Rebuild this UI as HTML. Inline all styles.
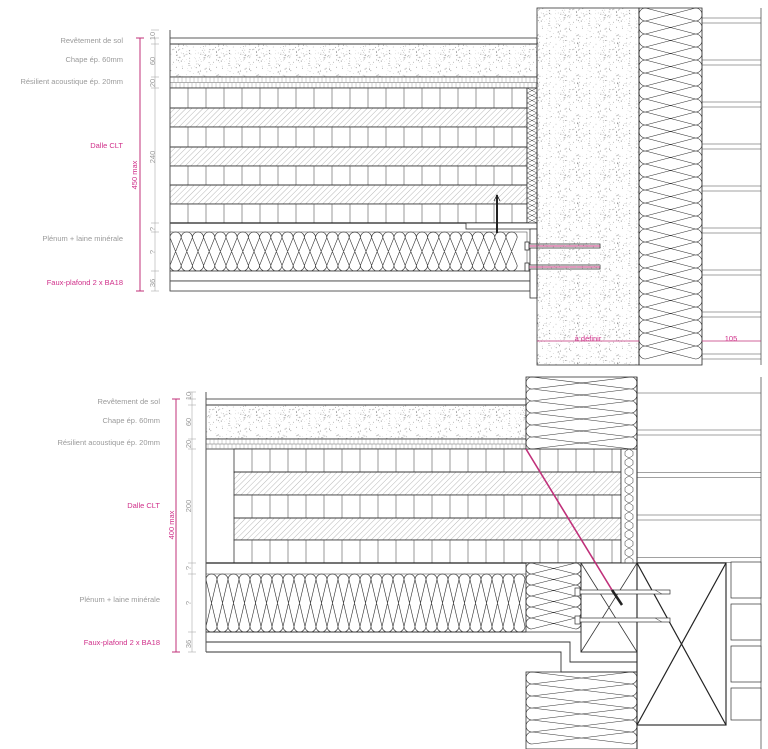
<!DOCTYPE html>
<html><head><meta charset="utf-8"><style>
html,body{margin:0;padding:0;background:#fff;width:768px;height:749px;overflow:hidden}
svg{display:block}
text{font-family:"Liberation Sans",sans-serif;font-size:7.5px}
.g{fill:#9a9a9a}.p{fill:#d0308a}
</style></head><body>
<svg id="s" width="768" height="749" viewBox="0 0 768 749" xmlns="http://www.w3.org/2000/svg">
<defs>
<pattern id="hatch" width="4" height="4" patternUnits="userSpaceOnUse" patternTransform="rotate(45)"><line x1="0" y1="0" x2="0" y2="4" stroke="#999" stroke-width="0.7"/></pattern>
<pattern id="speck" width="40" height="40" patternUnits="userSpaceOnUse"><g id="sp"></g></pattern>
</defs>
<g id="d" fill="none" stroke="#333" stroke-width="0.8"></g>
<text x="123" y="43" text-anchor="end" class="g">Revêtement de sol</text>
<text x="123" y="62" text-anchor="end" class="g">Chape ép. 60mm</text>
<text x="123" y="84" text-anchor="end" class="g">Résilient acoustique ép. 20mm</text>
<text x="123" y="148" text-anchor="end" class="p">Dalle CLT</text>
<text x="123" y="241" text-anchor="end" class="g">Plénum + laine minérale</text>
<text x="123" y="285" text-anchor="end" class="p">Faux-plafond 2 x BA18</text>
<text transform="translate(137,175) rotate(-90)" text-anchor="middle" class="p">450 max</text>
<text transform="translate(155,36) rotate(-90)" text-anchor="middle" class="g" font-size="6">10</text>
<text transform="translate(155,61) rotate(-90)" text-anchor="middle" class="g">60</text>
<text transform="translate(155,83) rotate(-90)" text-anchor="middle" class="g">20</text>
<text transform="translate(155,157) rotate(-90)" text-anchor="middle" class="g">240</text>
<text transform="translate(155,229) rotate(-90)" text-anchor="middle" class="g">?</text>
<text transform="translate(155,252) rotate(-90)" text-anchor="middle" class="g">?</text>
<text transform="translate(155,283) rotate(-90)" text-anchor="middle" class="g">36</text>
<text x="588" y="341" text-anchor="middle" class="p">à définir</text>
<text x="731" y="341" text-anchor="middle" class="p">105</text>
<text x="160" y="404" text-anchor="end" class="g">Revêtement de sol</text>
<text x="160" y="423" text-anchor="end" class="g">Chape ép. 60mm</text>
<text x="160" y="445" text-anchor="end" class="g">Résilient acoustique ép. 20mm</text>
<text x="160" y="508" text-anchor="end" class="p">Dalle CLT</text>
<text x="160" y="602" text-anchor="end" class="g">Plénum + laine minérale</text>
<text x="160" y="645" text-anchor="end" class="p">Faux-plafond 2 x BA18</text>
<text transform="translate(174,525) rotate(-90)" text-anchor="middle" class="p">400 max</text>
<text transform="translate(191,396) rotate(-90)" text-anchor="middle" class="g" font-size="6">10</text>
<text transform="translate(191,422) rotate(-90)" text-anchor="middle" class="g">60</text>
<text transform="translate(191,444) rotate(-90)" text-anchor="middle" class="g">20</text>
<text transform="translate(191,506) rotate(-90)" text-anchor="middle" class="g">200</text>
<text transform="translate(191,568) rotate(-90)" text-anchor="middle" class="g">?</text>
<text transform="translate(191,603) rotate(-90)" text-anchor="middle" class="g">?</text>
<text transform="translate(191,644) rotate(-90)" text-anchor="middle" class="g">36</text>
</svg>
<script>
var NS="http://www.w3.org/2000/svg",D=document.getElementById("d");
function el(t,a,p){var e=document.createElementNS(NS,t);for(var k in a)e.setAttribute(k,a[k]);(p||D).appendChild(e);return e;}
var sp=document.getElementById("sp"),seed=7;function rnd(){seed=(seed*9301+49297)%233280;return seed/233280;}
for(var i=0;i<160;i++)el("circle",{cx:rnd()*40,cy:rnd()*40,r:0.25+rnd()*0.35,fill:"#999"},sp);
function R(x,y,w,h,f,sw){return el("rect",{x:x,y:y,width:w,height:h,fill:f||"none","stroke-width":sw||0.8});}
function L(x1,y1,x2,y2,c,w){return el("line",{x1:x1,y1:y1,x2:x2,y2:y2,stroke:c||"#333","stroke-width":w||0.8});}
function boards(x,y,w,h,p){R(x,y,w,h,"#fff");for(var a=x+p;a<x+w;a+=p)L(a,y,a,y+h,"#555",0.6);}
function hatch(x,y,w,h){R(x,y,w,h,"url(#hatch)");}
function resil(x,y,w,h){R(x,y,w,h,"#fff");L(x,y+h/2,x+w,y+h/2,"#666",0.5);for(var a=x;a<x+w;a+=4){L(a,y,a,y+h/2,"#888",0.4);L(a+2,y+h/2,a+2,y+h,"#888",0.4);}}
function insV(x,y,w,h,p){R(x,y,w,h,"#fff",0.5);var r=p/2,d="";for(var a=x;a+p<=x+w+0.5;a+=p){d+="M"+a+","+(y+r)+"A"+r+","+r+" 0 0 1 "+(a+p)+","+(y+r)+"M"+a+","+(y+h-r)+"A"+r+","+r+" 0 0 0 "+(a+p)+","+(y+h-r)+"M"+a+","+(y+r)+"L"+(a+p)+","+(y+h-r)+"M"+(a+p)+","+(y+r)+"L"+a+","+(y+h-r);}el("path",{d:d,"stroke-width":0.6});}
function insH(x,y,w,h,p){R(x,y,w,h,"#fff",0);var r=p/2,d="";for(var b=y;b+p<=y+h+0.5;b+=p){d+="M"+(x+r)+","+b+"A"+r+","+r+" 0 0 0 "+(x+r)+","+(b+p)+"M"+(x+w-r)+","+b+"A"+r+","+r+" 0 0 1 "+(x+w-r)+","+(b+p)+"M"+(x+r)+","+b+"L"+(x+w-r)+","+(b+p)+"M"+(x+r)+","+(b+p)+"L"+(x+w-r)+","+b;}el("path",{d:d,"stroke-width":0.6});}
var PK="#c0307a";
R(170,38,367,6,"#fff");R(170,44,367,33,"url(#speck)");resil(170,77,367,11);
var rows=[88,108,127,147,166,185,204,223];
for(var i=0;i<7;i++){var y=rows[i],h=rows[i+1]-y;if(i%2==0)boards(170,y,357,h,18);else hatch(170,y,357,h);}
L(170,223,527,223,"#222",1.2);
R(527,88,10,135,"#fff");for(var y=88;y<223;y+=5){L(527,y,537,y+5,"#444",0.5);L(537,y,527,y+5,"#444",0.5);}
insV(170,232,357,39,11.2);
R(170,271,360,10,"#fff");R(170,281,360,10,"#fff");
R(466,223,71,6,"#fff");R(530,229,7,69,"#fff");
L(497,195,497,233,"#222",2);el("path",{d:"M494,201L497,195L500,201",stroke:"#222"});
[246,267].forEach(function(y){R(527,y-2,73,4,"#fff");L(527,y,600,y,PK,1);R(525,y-4,4,8,"#fff");});
R(537,8,102,357,"url(#speck)",0.8);
insH(639,8,63,357,13);L(639,8,639,365);L(702,8,702,365,"#444",0.6);L(761,8,761,365,"#555",0.8);
for(var y=18;y<365;y+=42){L(702,y,761,y,"#444",0.6);if(y+5<365)L(702,y+5,761,y+5,"#444",0.6);}
L(537,341,639,341,PK,0.7);L(702,341,761,341,PK,0.7);
L(140,38,140,291,PK,1);L(136,38,144,38,PK,1);L(136,291,144,291,PK,1);
L(155,38,155,291,"#aaa",0.6);[30,38,44,77,88,223,232,271,291].forEach(function(y){L(151,y,159,y,"#aaa",0.6);});
L(170,30,170,291,"#555",1);
R(206,399,320,6,"#fff");R(206,405,320,34,"url(#speck)");resil(206,439,320,10);
var r2=[449,472,495,518,540,563];
for(var i=0;i<5;i++){var y=r2[i],h=r2[i+1]-y;if(i%2==0)boards(234,y,387,h,18);else hatch(234,y,387,h);}
L(206,563,621,563,"#222",1.2);
R(621,449,16,114,"#fff");var hd="";for(var y=449;y<563;y+=9){hd+="M629,"+y+"l4,2.5v4l-4,2.5l-4,-2.5v-4z";}el("path",{d:hd,"stroke-width":0.5});
insV(206,574,320,58,11);
insH(526,377,111,72,12);insH(526,563,55,69,11);insH(526,672,111,77,12);
L(637,377,637,749,"#222",1);
el("path",{d:"M206,632H526M206,642H570V662H637M206,652H561V672H637","stroke-width":0.9});
R(581,563,56,89,"#fff",1);L(581,563,637,652);L(637,563,581,652);
R(637,563,89,162,"#fff",1.2);L(637,563,726,725,"#222",1.2);L(726,563,637,725,"#222",1.2);
[592,620].forEach(function(y){R(578,y-2,92,4,"#fff",0.7);R(575,y-4,5,8,"#fff",0.7);L(655,y-2,662,y+2,"#333",0.5);});
L(526,449,612,590,PK,1.6);L(612,590,622,605,"#222",2.5);
L(637,393,761,393,"#444",0.6);
for(var y=430;y<565;y+=42.5){L(637,y,761,y,"#444",0.6);L(637,y+5,761,y+5,"#444",0.6);}
L(761,377,761,749,"#555",0.8);
[[562,598],[604,640],[646,682],[688,720]].forEach(function(a){R(731,a[0],30,a[1]-a[0],"#fff",0.7);});
L(176,399,176,652,PK,1);L(172,399,180,399,PK,1);L(172,652,180,652,PK,1);
L(192,392,192,652,"#aaa",0.6);[392,399,405,439,449,563,574,632,652].forEach(function(y){L(188,y,196,y,"#aaa",0.6);});
L(206,392,206,652,"#555",1);
</script>
</body></html>
